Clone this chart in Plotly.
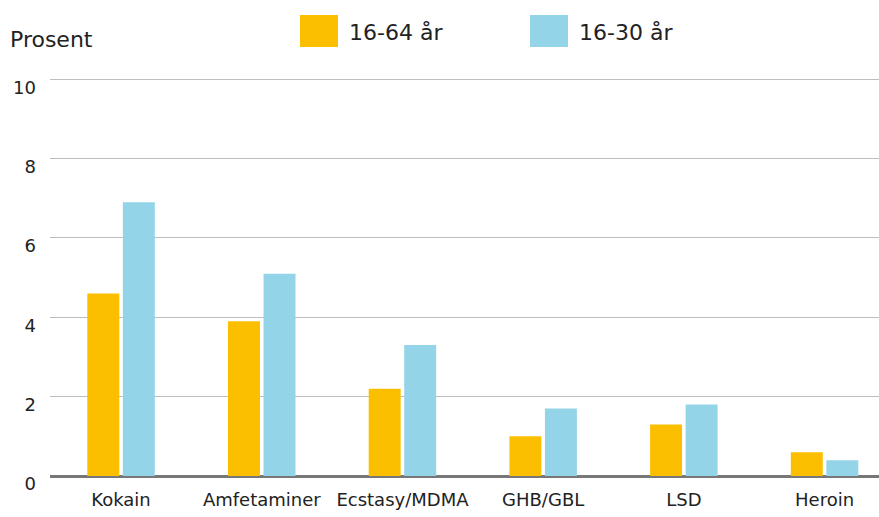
import plotly.graph_objects as go

# Data
categories = ["Kokain", "Amfetaminer", "Ecstasy/MDMA", "GHB/GBL", "LSD", "Heroin"]
series_names = ["16-64 år", "16-30 år"]
values_16_64 = [4.6, 3.9, 2.2, 1.0, 1.3, 0.6]
values_16_30 = [6.9, 5.1, 3.3, 1.7, 1.8, 0.4]
y_ticks = [0, 2, 4, 6, 8, 10]

colors = ["#FBBF00", "#94D4E8"]
text_color = "#222222"
font_family = "DejaVu Sans, Noto Sans, sans-serif"

fig = go.Figure()
for name, vals, col in zip(series_names, [values_16_64, values_16_30], colors):
    fig.add_trace(go.Bar(
        x=categories, y=vals, name=name,
        marker=dict(color=col, line=dict(width=0)),
        showlegend=False,
    ))

plot_w, plot_h = 829, 398
top = 78

fig.update_layout(
    width=879, height=517,
    margin=dict(l=50, r=0, t=top, b=41),
    paper_bgcolor="white", plot_bgcolor="white",
    barmode="group", bargap=0.495, bargroupgap=0.1,
    font=dict(family=font_family, color=text_color, size=18),
    xaxis=dict(
        range=[-0.505, 5.387],
        showgrid=False, zeroline=False, showline=False,
        ticks="", ticklabelstandoff=11,
        tickfont=dict(size=18, color=text_color),
    ),
    yaxis=dict(
        range=[0, 10.03], tickvals=y_ticks,
        showgrid=True, gridcolor="#BDBDBD", gridwidth=1,
        zeroline=True, zerolinecolor="#777777", zerolinewidth=3,
        showline=False, ticks="",
        ticklabelstandoff=13, ticklabelshift=8,
        tickfont=dict(size=18, color=text_color),
    ),
)

# Axis title
fig.add_annotation(
    text="Prosent", xref="paper", yref="paper",
    x=-42 / plot_w, y=1 + (top - 40) / plot_h, xanchor="left", yanchor="middle",
    showarrow=False, font=dict(size=22, color=text_color),
)

# Legend: colour swatches with labels
legend_x = [300, 530]
for name, col, lx in zip(series_names, colors, legend_x):
    fig.add_shape(
        type="rect", xref="paper", yref="paper",
        x0=(lx - 50) / plot_w, x1=(lx + 38 - 50) / plot_w,
        y0=1 + (top - 47) / plot_h, y1=1 + (top - 15) / plot_h,
        fillcolor=col, line=dict(width=0),
    )
    fig.add_annotation(
        text=name, xref="paper", yref="paper",
        x=(lx + 47 - 50) / plot_w, y=1 + (top - 32) / plot_h,
        xanchor="left", yanchor="middle", showarrow=False,
        font=dict(size=22, color=text_color),
    )

fig.write_html("out.html")
